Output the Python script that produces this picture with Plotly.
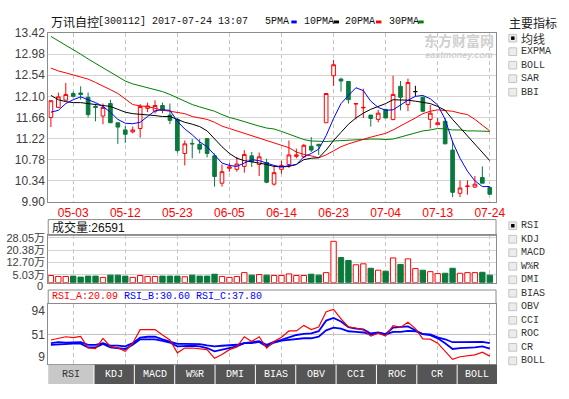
import plotly.graph_objects as go

W, H = 569, 399


def px(x):
    return x / W


def py(y):
    return 1 - y / H


RED = "#ff0000"
GREEN = "#0a7a3c"
BLUE = "#0000ff"
BLACK = "#000000"
MA30C = "#008000"
BORDER = "#8c8c8c"
GRID = "#d4d4d4"
VGRID = "#c4c4c4"
TXT = "#404040"
MONO = "Liberation Mono, DejaVu Sans Mono, monospace"
SANS = "Liberation Sans, Arial, Noto Sans CJK SC, sans-serif"
CJK = "Noto Sans CJK SC, sans-serif"

# ---------------- data ----------------
dates = ["04-27", "04-28", "05-02", "05-03", "05-04", "05-05", "05-08", "05-09", "05-10", "05-11",
         "05-12", "05-15", "05-16", "05-17", "05-18", "05-19", "05-22", "05-23", "05-24", "05-25",
         "05-26", "05-31", "06-01", "06-02", "06-05", "06-06", "06-07", "06-08", "06-09", "06-12",
         "06-13", "06-14", "06-15", "06-16", "06-19", "06-20", "06-21", "06-22", "06-23", "06-26",
         "06-27", "06-28", "06-29", "06-30", "07-03", "07-04", "07-05", "07-06", "07-07", "07-10",
         "07-11", "07-12", "07-13", "07-14", "07-17", "07-18", "07-19", "07-20", "07-21", "07-24"]
date_ticks = ["05-03", "05-12", "05-23", "06-05", "06-14", "06-23", "07-04", "07-13", "07-24"]

open_ = [11.66, 11.87, 12.02, 12.16, 12.17, 12.08, 11.89, 11.69, 11.95, 11.55,
         11.40, 11.36, 11.43, 11.85, 11.79, 11.91, 11.71, 11.62, 10.91, 11.12,
         11.10, 11.22, 10.86, 10.29, 10.60, 10.58, 10.64, 10.86, 10.68, 10.72,
         10.27, 10.58, 10.68, 10.85, 10.84, 11.06, 11.10, 11.55, 12.53, 12.46,
         12.41, 11.94, 11.86, 11.71, 11.62, 11.83, 11.62, 12.31, 11.93, 12.20,
         12.08, 11.62, 11.51, 11.58, 10.98, 10.08, 10.22, 10.21, 10.41, 10.20]
high = [12.02, 12.18, 12.38, 12.20, 12.31, 12.18, 11.95, 11.95, 12.03, 11.55,
        11.48, 11.47, 11.94, 11.97, 12.02, 11.97, 11.95, 11.65, 11.18, 11.21,
        11.21, 11.22, 10.91, 10.68, 10.71, 10.84, 10.98, 10.94, 10.93, 10.80,
        10.64, 10.76, 11.18, 11.01, 11.11, 11.25, 11.11, 12.16, 12.86, 12.49,
        12.41, 11.96, 12.26, 11.71, 11.82, 11.83, 12.53, 12.42, 12.47, 12.32,
        12.10, 11.92, 11.65, 11.65, 11.18, 10.35, 10.35, 10.44, 10.64, 10.22]
low = [11.46, 11.86, 12.01, 12.08, 12.03, 11.66, 11.58, 11.52, 11.55, 11.11,
       11.13, 11.33, 11.24, 11.77, 11.74, 11.75, 11.52, 10.93, 10.66, 10.81,
       10.91, 10.83, 10.22, 10.22, 10.53, 10.53, 10.51, 10.63, 10.44, 10.29,
       10.24, 10.49, 10.61, 10.81, 10.81, 10.94, 10.88, 11.55, 12.32, 12.20,
       11.95, 11.62, 11.65, 11.47, 11.56, 11.65, 11.60, 11.81, 11.79, 12.10,
       11.77, 11.43, 11.51, 11.11, 10.00, 10.00, 10.05, 10.19, 10.29, 10.06]
close = [12.01, 12.09, 12.14, 12.10, 12.14, 11.72, 11.87, 11.87, 11.55, 11.46,
         11.31, 11.40, 11.89, 11.90, 11.91, 11.81, 11.60, 10.97, 11.11, 11.11,
         11.00, 10.91, 10.43, 10.53, 10.63, 10.69, 10.89, 10.74, 10.84, 10.31,
         10.51, 10.66, 10.88, 10.88, 11.08, 10.98, 11.07, 12.16, 12.76, 12.42,
         12.03, 11.95, 11.87, 11.64, 11.75, 11.65, 12.14, 12.08, 12.39, 12.20,
         11.79, 11.75, 11.55, 11.11, 10.10, 10.19, 10.23, 10.27, 10.29, 10.06]

ma5 = [11.77, 11.81, 11.95, 12.03, 12.09, 12.03, 11.97, 11.89, 11.77, 11.62,
       11.54, 11.53, 11.56, 11.68, 11.80, 11.82, 11.81, 11.58, 11.42, 11.30,
       11.15, 11.05, 10.88, 10.71, 10.66, 10.64, 10.71, 10.78, 10.76, 10.71,
       10.66, 10.63, 10.66, 10.68, 10.84, 10.91, 11.00, 11.28, 11.64, 11.95,
       12.12, 12.28, 12.22, 12.00, 11.87, 11.81, 11.82, 11.92, 12.02, 12.10,
       12.12, 12.05, 11.92, 11.62, 11.15, 10.81, 10.54, 10.34, 10.22, 10.22]
ma10 = [12.12, 12.03, 11.99, 11.97, 11.97, 11.95, 11.92, 11.90, 11.89, 11.83,
        11.77, 11.74, 11.73, 11.72, 11.70, 11.68, 11.68, 11.62, 11.56, 11.52,
        11.47, 11.38, 11.21, 11.05, 10.91, 10.81, 10.76, 10.74, 10.71, 10.68,
        10.64, 10.63, 10.64, 10.68, 10.78, 10.81, 10.82, 10.98, 11.18, 11.35,
        11.52, 11.65, 11.75, 11.83, 11.89, 11.95, 12.03, 12.03, 12.02, 12.00,
        11.97, 11.95, 11.89, 11.81, 11.62, 11.45, 11.28, 11.11, 10.94, 10.76]
ma20 = [12.69, 12.63, 12.59, 12.55, 12.50, 12.46, 12.39, 12.32, 12.24, 12.16,
        12.04, 11.93, 11.90, 11.89, 11.85, 11.81, 11.79, 11.77, 11.74, 11.68,
        11.65, 11.62, 11.56, 11.48, 11.43, 11.38, 11.33, 11.28, 11.23, 11.18,
        11.13, 11.08, 11.03, 10.94, 10.89, 10.86, 10.82, 10.88, 10.96, 11.05,
        11.11, 11.16, 11.20, 11.25, 11.29, 11.33, 11.40, 11.48, 11.56, 11.65,
        11.74, 11.79, 11.82, 11.81, 11.79, 11.75, 11.72, 11.62, 11.50, 11.38]
ma30 = [13.35, 13.26, 13.17, 13.07, 12.98, 12.88, 12.79, 12.70, 12.60, 12.51,
        12.42, 12.36, 12.32, 12.29, 12.25, 12.20, 12.14, 12.07, 12.00, 11.93,
        11.88, 11.83, 11.79, 11.72, 11.66, 11.62, 11.57, 11.53, 11.48, 11.44,
        11.42, 11.37, 11.31, 11.25, 11.20, 11.17, 11.16, 11.16, 11.17, 11.18,
        11.19, 11.20, 11.21, 11.21, 11.21, 11.20, 11.21, 11.25, 11.29, 11.33,
        11.38, 11.40, 11.43, 11.42, 11.40, 11.40, 11.38, 11.38, 11.37, 11.37]

# volume in 万
volume = [4.5, 3.9, 3.9, 4.1, 3.5, 4.1, 4.1, 3.3, 4.7, 4.7,
          4.1, 3.3, 4.5, 3.9, 3.9, 4.1, 4.1, 4.1, 3.7, 4.7,
          4.1, 4.1, 5.3, 3.9, 3.3, 3.9, 6.3, 4.7, 5.1, 4.7,
          4.5, 4.5, 5.5, 4.5, 4.5, 5.3, 4.7, 6.3, 25.9, 15.7,
          13.9, 11.2, 11.8, 9.0, 7.8, 7.2, 15.5, 11.4, 14.9, 8.8,
          7.8, 6.9, 5.7, 5.9, 9.0, 5.9, 6.3, 6.3, 6.5, 4.7]

rsi_a = [40.8, 43.8, 46.8, 45.0, 47.4, 26.0, 24.8, 43.8, 28.9, 26.0,
         19.9, 34.9, 59.9, 59.9, 59.9, 49.8, 40.9, 17.1, 26.0, 26.0,
         24.8, 23.0, 7.0, 14.1, 23.0, 28.0, 46.8, 37.9, 46.8, 26.0,
         37.9, 46.0, 57.5, 57.5, 67.7, 59.9, 64.7, 93.0, 97.0, 79.6,
         64.7, 62.9, 59.5, 48.0, 53.5, 48.0, 67.0, 64.0, 73.5, 61.7,
         43.0, 42.3, 34.9, 20.0, 5.2, 9.9, 11.1, 13.5, 18.3, 11.1]
rsi_b = [31.9, 33.1, 34.2, 34.2, 34.2, 27.1, 27.1, 33.7, 27.1, 26.0,
         24.2, 31.9, 42.1, 42.1, 42.1, 39.1, 36.1, 29.0, 30.2, 30.2,
         29.0, 26.0, 20.0, 23.0, 26.0, 29.0, 34.9, 34.9, 37.3, 29.0,
         36.1, 39.7, 41.0, 43.0, 44.0, 44.0, 47.0, 58.7, 63.5, 61.7,
         56.9, 55.7, 54.6, 51.0, 53.9, 51.0, 55.7, 55.7, 57.5, 56.9,
         51.5, 49.8, 43.8, 34.9, 24.2, 26.0, 26.0, 27.2, 29.0, 24.8]
rsi_c = [34.9, 36.7, 36.0, 36.7, 36.7, 31.9, 31.9, 34.9, 30.6, 30.6,
         28.9, 34.9, 45.0, 46.8, 46.8, 42.1, 37.9, 33.7, 33.7, 33.1,
         33.1, 30.8, 29.0, 30.2, 30.8, 32.0, 34.9, 36.1, 38.5, 32.0,
         37.3, 40.9, 46.0, 50.0, 52.0, 53.0, 57.0, 76.5, 81.3, 74.8,
         64.6, 61.7, 60.5, 52.8, 54.6, 51.5, 63.5, 64.6, 65.8, 58.7,
         51.5, 51.0, 45.6, 42.1, 36.7, 36.7, 36.7, 36.7, 37.3, 34.9]

price_ticks = [9.90, 10.34, 10.78, 11.22, 11.66, 12.10, 12.54, 12.98, 13.42]
vol_ticks = [5.03, 12.70, 20.38, 28.05]
vol_tick_text = ["5.03万", "12.70万", "20.38万", "28.05万"]
vol_zero_label = "0"
rsi_ticks = [9, 51, 94]

ma_names = ["5PMA", "10PMA", "20PMA", "30PMA"]
main_items = ["均线", "EXPMA", "BOLL", "SAR", "BBI"]
sub_items = ["RSI", "KDJ", "MACD", "W%R", "DMI", "BIAS", "OBV", "CCI", "ROC", "CR", "BOLL"]
tabs = ["RSI", "KDJ", "MACD", "W%R", "DMI", "BIAS", "OBV", "CCI", "ROC", "CR", "BOLL"]

# ---------------- figure ----------------
x_idx = list(range(len(dates)))
tick_pos = [dates.index(t) for t in date_ticks]

fig = go.Figure()


def pick(seq, idx):
    return [seq[i] for i in idx]


groups = [
    ([i for i in x_idx if close[i] > open_[i]], RED, "white"),
    ([i for i in x_idx if close[i] < open_[i]], GREEN, GREEN),
    ([i for i in x_idx if close[i] == open_[i]], BLACK, BLACK),
]
for idx, lc, fc in groups:
    if not idx:
        continue
    st = dict(line=dict(color=lc, width=1), fillcolor=fc)
    fig.add_trace(go.Candlestick(
        x=idx, open=pick(open_, idx), high=pick(high, idx), low=pick(low, idx),
        close=pick(close, idx), increasing=st, decreasing=st, whiskerwidth=0,
        xaxis="x", yaxis="y", hoverinfo="skip", showlegend=False))

for series, col in [(ma30, MA30C), (ma20, RED), (ma10, BLACK), (ma5, BLUE)]:
    fig.add_trace(go.Scatter(x=x_idx, y=series, mode="lines",
                             line=dict(color=col, width=1),
                             xaxis="x", yaxis="y", hoverinfo="skip", showlegend=False))

up_day = [close[i] >= open_[i] for i in x_idx]
fig.add_trace(go.Bar(
    x=x_idx, y=volume, width=0.72,
    marker=dict(color=["white" if u else GREEN for u in up_day],
                line=dict(color=[RED if u else GREEN for u in up_day], width=1)),
    xaxis="x2", yaxis="y2", hoverinfo="skip", showlegend=False))

for series, col, w in [(rsi_c, BLUE, 1.8), (rsi_b, BLUE, 1.8), (rsi_a, RED, 1.2)]:
    fig.add_trace(go.Scatter(x=x_idx, y=series, mode="lines",
                             line=dict(color=col, width=w),
                             xaxis="x3", yaxis="y3", hoverinfo="skip", showlegend=False))

xdom = [px(49), px(504)]
common_x = dict(domain=xdom, range=[-0.36, 59.84], tickmode="array", tickvals=tick_pos,
                showgrid=True, gridcolor=VGRID, griddash="4px,3px", gridwidth=1,
                showline=True, mirror=True, linecolor=BORDER, linewidth=1,
                zeroline=False, ticks="", fixedrange=True)
common_y = dict(showline=True, mirror=True, linecolor=BORDER, linewidth=1,
                zeroline=False, ticks="", fixedrange=True,
                tickfont=dict(family=SANS, size=12, color=TXT))

fig.update_layout(
    width=W, height=H, margin=dict(l=0, r=0, t=0, b=0),
    paper_bgcolor="white", plot_bgcolor="white", showlegend=False,
    hovermode=False,
    xaxis=dict(common_x, anchor="y", ticktext=date_ticks, showticklabels=True,
               tickfont=dict(family=SANS, size=12, color=RED),
               rangeslider=dict(visible=False)),
    xaxis2=dict(common_x, anchor="y2", showticklabels=False),
    xaxis3=dict(common_x, anchor="y3", showticklabels=False),
    yaxis=dict(common_y, anchor="x", domain=[py(202), py(27)], range=[9.90, 13.42],
               tickmode="array", tickvals=price_ticks,
               ticktext=[f"{v:.2f}" for v in price_ticks],
               showgrid=True, gridcolor=GRID, gridwidth=1),
    yaxis2=dict(common_y, anchor="x2", domain=[py(285.7), py(236.7)], range=[0, 29.6],
                tickmode="array", tickvals=vol_ticks, ticktext=vol_tick_text,
                tickfont=dict(family=SANS, size=11, color=TXT),
                showgrid=True, gridcolor=GRID, gridwidth=1),
    yaxis3=dict(common_y, anchor="x3", domain=[py(370.3), py(307.3)], range=[-4, 108],
                tickmode="array", tickvals=rsi_ticks,
                ticktext=[str(v) for v in rsi_ticks], showgrid=False),
)

shapes = []
annotations = []

# zero label of the volume axis (sits just under the panel floor, as in the original)
annotations.append(dict(text=vol_zero_label, x=px(45.5), y=py(289), xref="paper", yref="paper",
                        xanchor="right", yanchor="middle", showarrow=False,
                        font=dict(family=SANS, size=11, color=TXT)))

# RSI middle reference line
shapes.append(dict(type="line", xref="paper", yref="y3", x0=px(49), x1=px(504),
                   y0=rsi_ticks[1], y1=rsi_ticks[1], line=dict(color="#c0c0c0", width=1),
                   layer="below"))

# header boxes for sub panels
for y0, y1 in [(220.3, 236.7), (293.3, 307.3)]:
    shapes.append(dict(type="rect", xref="paper", yref="paper",
                       x0=px(49), x1=px(504), y0=py(y1), y1=py(y0),
                       line=dict(color=BORDER, width=1), fillcolor="rgba(0,0,0,0)"))

# title
annotations.append(dict(text="万讯自控", x=px(50), y=py(15), xref="paper", yref="paper",
                        xanchor="left", yanchor="middle", showarrow=False,
                        font=dict(family=CJK, size=12, color="#111")))
annotations.append(dict(text="[300112] 2017-07-24 13:07", x=px(98), y=py(15), xref="paper",
                        yref="paper", xanchor="left", yanchor="middle", showarrow=False,
                        font=dict(family=MONO, size=10, color="#111")))

# MA legend
legend_pos = [(267, 296), (307, 339), (349, 382), (393, 425)]
for name, (tx, mx), col in zip(ma_names, legend_pos, [BLUE, BLACK, RED, MA30C]):
    annotations.append(dict(text=name, x=px(tx), y=py(15), xref="paper", yref="paper",
                            xanchor="left", yanchor="middle", showarrow=False,
                            font=dict(family=MONO, size=10, color="#111")))
    shapes.append(dict(type="rect", xref="paper", yref="paper", x0=px(mx), x1=px(mx + 5.5),
                       y0=py(17), y1=py(14), line=dict(width=0), fillcolor=col))

# watermark (single two-line annotation)
annotations.append(dict(
    text='<span style="font-size:14px"><b>东方财富网</b></span><br><b><i>eastmoney.com</i></b>',
    x=px(466), y=py(41), xref="paper", yref="paper", xanchor="center", yanchor="middle",
    showarrow=False, font=dict(family=SANS, size=9, color="#d0d0d0")))

# right side: indicator selectors
annotations.append(dict(text="主要指标", x=px(515), y=py(16), xref="paper", yref="paper",
                        xanchor="left", yanchor="middle", showarrow=False,
                        font=dict(family=CJK, size=12, color="#222")))


def checkbox(label, yc, checked, fam):
    shapes.append(dict(type="rect", xref="paper", yref="paper", x0=px(517), x1=px(525),
                       y0=py(yc + 4), y1=py(yc - 4), line=dict(color="#c4c4c4", width=1),
                       fillcolor="#ececec"))
    if checked:
        shapes.append(dict(type="rect", xref="paper", yref="paper", x0=px(519.3), x1=px(522.8),
                           y0=py(yc + 1.8), y1=py(yc - 1.8), line=dict(width=0),
                           fillcolor="#000"))
    annotations.append(dict(text=label, x=px(527), y=py(yc), xref="paper", yref="paper",
                            xanchor="left", yanchor="middle", showarrow=False,
                            font=dict(family=fam, size=10 if fam == MONO else 12, color="#333")))


for k, name in enumerate(main_items):
    checkbox(name, 32.3 + 14 * k, k == 0, CJK if k == 0 else MONO)
for k, name in enumerate(sub_items):
    checkbox(name, 226.7 + 14 * k, k == 0, MONO)

# sub-panel headers
annotations.append(dict(text="成交量:26591", x=px(50.5), y=py(228.5), xref="paper", yref="paper",
                        xanchor="left", yanchor="middle", showarrow=False,
                        font=dict(family=SANS, size=12, color="#111")))
annotations.append(dict(
    text='<span style="color:#ff0000">RSI_A:20.09</span><span style="color:#0000ff"> RSI_B:30.60 RSI_C:37.80</span>',
    x=px(50.5), y=py(300.5), xref="paper", yref="paper", xanchor="left", yanchor="middle",
    showarrow=False, font=dict(family=MONO, size=10, color=RED)))

# tabs
tab_edges = [(49, 95), (96, 136), (137, 177), (178, 218), (219, 259), (260, 300),
             (301, 341), (342, 382), (383, 423), (424, 464), (465, 505)]
for k, (name, (a, b)) in enumerate(zip(tabs, tab_edges)):
    sel = k == 0
    shapes.append(dict(type="rect", xref="paper", yref="paper", x0=px(a), x1=px(b),
                       y0=py(390.7), y1=py(370.7), line=dict(width=0),
                       fillcolor="#c8c8c8" if sel else "#555555"))
    annotations.append(dict(text=name, x=px((a + b) / 2), y=py(381), xref="paper", yref="paper",
                            xanchor="center", yanchor="middle", showarrow=False,
                            font=dict(family=MONO, size=10, color="#333" if sel else "white")))

fig.update_layout(shapes=shapes, annotations=annotations)

fig.write_html("out.html", config={"displayModeBar": False, "staticPlot": True})
